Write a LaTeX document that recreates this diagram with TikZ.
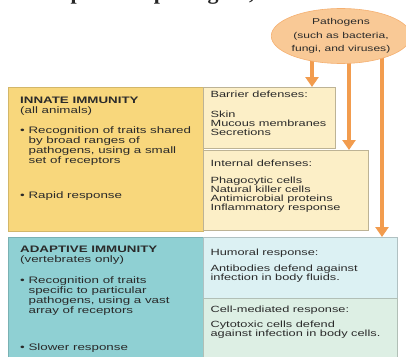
\documentclass[tikz,border=0pt]{standalone}
\usepackage{fontspec}
\setmainfont{Liberation Sans}
\newfontfamily\figfont[FakeStretch=1.42]{Liberation Sans}
\newfontfamily\capfont{Liberation Serif}
\usetikzlibrary{positioning,backgrounds,arrows.meta,shapes.geometric}

\definecolor{innateyellow}{HTML}{F8D77C}
\definecolor{paleyellow}{HTML}{FCEFC7}
\definecolor{adaptteal}{HTML}{8FD0D3}
\definecolor{paleblue}{HTML}{DCF1F3}
\definecolor{palegreen}{HTML}{DDEFE4}
\definecolor{feedorange}{HTML}{F29C4E}
\definecolor{pathfill}{HTML}{F9C996}
\definecolor{inktext}{HTML}{2A2A2A}

\newcommand{\bulind}{\hphantom{\textbullet\ }}

\begin{document}
\begin{tikzpicture}[x=1pt, y=-1pt,
  panel/.style = {anchor=north west, inner sep=0pt, draw=#1,
    line width=0.4pt},
  bodytext/.style = {anchor=north west, inner sep=0pt, align=left,
    text=inktext, font=\figfont\fontsize{9.4}{10}\selectfont},
  subtext/.style = {bodytext, font=\figfont\fontsize{9}{9}\selectfont},
  feed/.style = {draw=feedorange, line width=4.5pt,
    -{Triangle[width=13pt,length=10pt]}}]
  \useasboundingbox (0,0) rectangle (406,356);
  \clip (0,0) rectangle (406,356);

  % caption line cut off at the top
  \node[anchor=base west, inner sep=0pt, text=black!85,
    font=\capfont\bfseries\fontsize{22}{24}\selectfont] (caption) at (-3,-1)
    {ense response to pathogens,};

  % innate side
  \node[panel=innateyellow!85!black, fill=innateyellow,
    minimum width=195pt, minimum height=144pt] (innate) at (8,87) {};
  \node[panel=paleyellow!75!black, fill=paleyellow,
    minimum width=132pt, minimum height=61pt] (barrier) at (innate.north east) {};
  \node[panel=paleyellow!75!black, fill=paleyellow,
    minimum width=165pt, minimum height=80pt] (internal)
    at ([shift={(0,63)}]innate.north east) {};

  % adaptive side
  \node[panel=adaptteal!85!black, fill=adaptteal,
    minimum width=195pt, minimum height=125pt] (adaptive) at (8,237) {};
  \node[panel=paleblue!80!black, fill=paleblue,
    minimum width=194pt, minimum height=61pt] (humoral) at (adaptive.north east) {};
  \node[panel=palegreen!80!black, fill=palegreen,
    minimum width=194pt, minimum height=64pt] (cellmed)
    at ([shift={(0,61)}]adaptive.north east) {};

  % texts
  \node[bodytext] (innatetxt) at ([shift={(12,10)}]innate.north west)
    {{\bfseries INNATE IMMUNITY}\\
     (all animals)\\[10pt]
     \textbullet\ Recognition of traits shared\\
     \bulind by broad ranges of\\
     \bulind pathogens, using a small\\
     \bulind set of receptors\\[25pt]
     \textbullet\ Rapid response};
  \node[subtext] (barriertxt) at ([shift={(7,4)}]barrier.north west)
    {Barrier defenses:\\[11pt]
     Skin\\
     Mucous membranes\\
     Secretions};
  \node[subtext] (internaltxt) at ([shift={(7,10)}]internal.north west)
    {Internal defenses:\\[8pt]
     Phagocytic cells\\
     Natural killer cells\\
     Antimicrobial proteins\\
     Inflammatory response};
  \node[bodytext] (adaptivetxt) at ([shift={(12,9)}]adaptive.north west)
    {{\bfseries ADAPTIVE IMMUNITY}\\
     (vertebrates only)\\[11pt]
     \textbullet\ Recognition of traits\\
     \bulind specific to particular\\
     \bulind pathogens, using a vast\\
     \bulind array of receptors\\[27pt]
     \textbullet\ Slower response};
  \node[subtext] (humoraltxt) at ([shift={(7,12)}]humoral.north west)
    {Humoral response:\\[7pt]
     Antibodies defend against\\
     infection in body fluids.};
  \node[subtext] (cellmedtxt) at ([shift={(7,8)}]cellmed.north west)
    {Cell-mediated response:\\[6pt]
     Cytotoxic cells defend\\
     against infection in body cells.};

  % pathogens
  \node[ellipse, draw=feedorange!80, fill=pathfill, line width=0.6pt,
    minimum width=126pt, minimum height=55pt, inner sep=0pt, align=center,
    text=inktext, font=\figfont\fontsize{8.5}{13.5}\selectfont]
    (pathogens) at (341,36)
    {Pathogens\\(such as bacteria,\\fungi, and viruses)};

  \coordinate (xbarrier) at (312,0);
  \coordinate (xinternal) at (349,0);
  \coordinate (xadaptive) at (382,0);
  \begin{scope}[on background layer]
    \fill[white] (0,0) rectangle (406,356);
    \draw[feed] (pathogens.center -| xbarrier) -- (barrier.north -| xbarrier);
    \draw[feed] (pathogens.center -| xinternal) -- (internal.north -| xinternal);
    \draw[feed] (pathogens.center -| xadaptive) -- (humoral.north -| xadaptive);
  \end{scope}
\end{tikzpicture}
\end{document}
